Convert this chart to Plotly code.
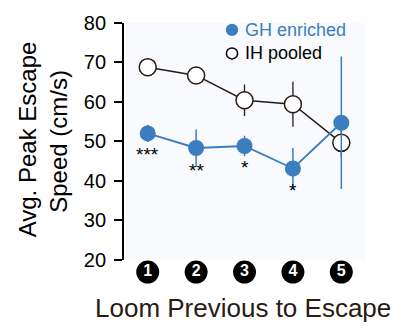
import plotly.graph_objects as go

looms = [1, 2, 3, 4, 5]
loom_labels = ["1", "2", "3", "4", "5"]
gh_mean = [52.0, 48.3, 48.8, 43.1, 54.7]
gh_err = [2.2, 4.7, 2.6, 5.2, 16.8]
ih_mean = [68.8, 66.7, 60.4, 59.4, 49.6]
ih_err = [1.0, 1.0, 4.0, 5.7, 3.5]
sig_labels = ["***", "**", "*", "*", ""]
sig_y = [46.7, 42.5, 43.4, 37.5, None]
series_names = ["GH enriched", "IH pooled"]

BLUE = "#3b7dbf"
DARK = "#2a1a14"
FONT = "Liberation Sans, Arial, sans-serif"

L, R, T, B = 124, 37, 18, 40
W, H = 403, 329
PW, PH = W - L - R, H - T - B
ydom0 = 30 / PH


def px_x(p):
    return (p - L) / PW


def px_y(p):
    return (H - B - p) / PH


fig = go.Figure()

fig.add_shape(type="rect", xref="x domain", yref="y domain", x0=0.008, x1=1, y0=0, y1=1,
              fillcolor="#f8fafd", line=dict(width=0), layer="below")

fig.add_trace(go.Scatter(
    x=looms, y=ih_mean, mode="lines+markers", name=series_names[1],
    line=dict(color=DARK, width=1.5),
    marker=dict(size=17, color="white", line=dict(color=DARK, width=1.5)),
    error_y=dict(type="data", array=ih_err, color=DARK, thickness=1.3, width=0),
    showlegend=False,
))
fig.add_trace(go.Scatter(
    x=looms, y=gh_mean, mode="lines+markers", name=series_names[0],
    line=dict(color=BLUE, width=1.8),
    marker=dict(size=16, color=BLUE, line=dict(width=0)),
    error_y=dict(type="data", array=gh_err, color=BLUE, thickness=1.5, width=0),
    showlegend=False,
))

# custom legend (symbols + labels)
leg_items = [(series_names[0], BLUE, BLUE, BLUE, 25, 6.2),
             (series_names[1], "white", "black", "black", 49, 5.6)]
for name, fill, edge, tcol, yc, r in leg_items:
    fig.add_shape(type="circle", xref="paper", yref="paper",
                  x0=px_x(232 - r), x1=px_x(232 + r), y0=px_y(yc + r), y1=px_y(yc - r),
                  fillcolor=fill, line=dict(color=edge, width=1.5 if fill == "white" else 0))
    fig.add_annotation(xref="paper", yref="paper", x=px_x(243), y=px_y(yc), text=name,
                       showarrow=False, xanchor="left", yanchor="middle",
                       font=dict(size=18, color=tcol, family=FONT))

# circled category labels
fig.add_trace(go.Scatter(
    x=looms, y=[0.577] * len(looms), yaxis="y2", mode="markers+text",
    marker=dict(size=23, color="black"),
    text=["<b>%s</b>" % t for t in loom_labels],
    textfont=dict(color="white", size=16, family=FONT),
    textposition="middle center",
    cliponaxis=False, showlegend=False, hoverinfo="skip",
))

for x, t, y in zip(looms, sig_labels, sig_y):
    if t:
        fig.add_annotation(x=x, y=y, text=t, showarrow=False,
                           font=dict(size=19, color="black", family=FONT),
                           yanchor="middle", xanchor="center")

# axis titles
fig.add_annotation(xref="paper", yref="paper", x=px_x(243), y=px_y(308),
                   text="Loom Previous to Escape", showarrow=False,
                   font=dict(size=26, color=DARK, family=FONT),
                   xanchor="center", yanchor="middle")
fig.add_annotation(xref="paper", yref="paper", x=px_x(27), y=px_y(136.5),
                   text="Avg. Peak Escape", showarrow=False, textangle=-90,
                   font=dict(size=24, color="black", family=FONT),
                   xanchor="center", yanchor="middle")
fig.add_annotation(xref="paper", yref="paper", x=px_x(59), y=px_y(139),
                   text="Speed (cm/s)", showarrow=False, textangle=-90,
                   font=dict(size=24, color="black", family=FONT),
                   xanchor="center", yanchor="middle")

fig.update_layout(
    width=W, height=H,
    margin=dict(l=L, r=R, t=T, b=B),
    paper_bgcolor="white",
    plot_bgcolor="white",
    font=dict(family=FONT, color="black"),
    showlegend=False,
    xaxis=dict(
        range=[0.51, 5.51], showticklabels=False, showgrid=False, zeroline=False,
        showline=False, ticks="", anchor="y",
    ),
    yaxis=dict(
        domain=[ydom0, 1],
        range=[20, 80], tickvals=[20, 30, 40, 50, 60, 70, 80],
        showgrid=False, zeroline=False, showline=True, linecolor="black", linewidth=1.8,
        ticks="outside", ticklen=8, tickwidth=1.8, tickcolor="black",
        tickfont=dict(size=20, color="black"), ticklabelstandoff=4,
    ),
    yaxis2=dict(
        domain=[0, ydom0], range=[0, 1], visible=False, fixedrange=True,
    ),
)

fig.write_html("out.html")
